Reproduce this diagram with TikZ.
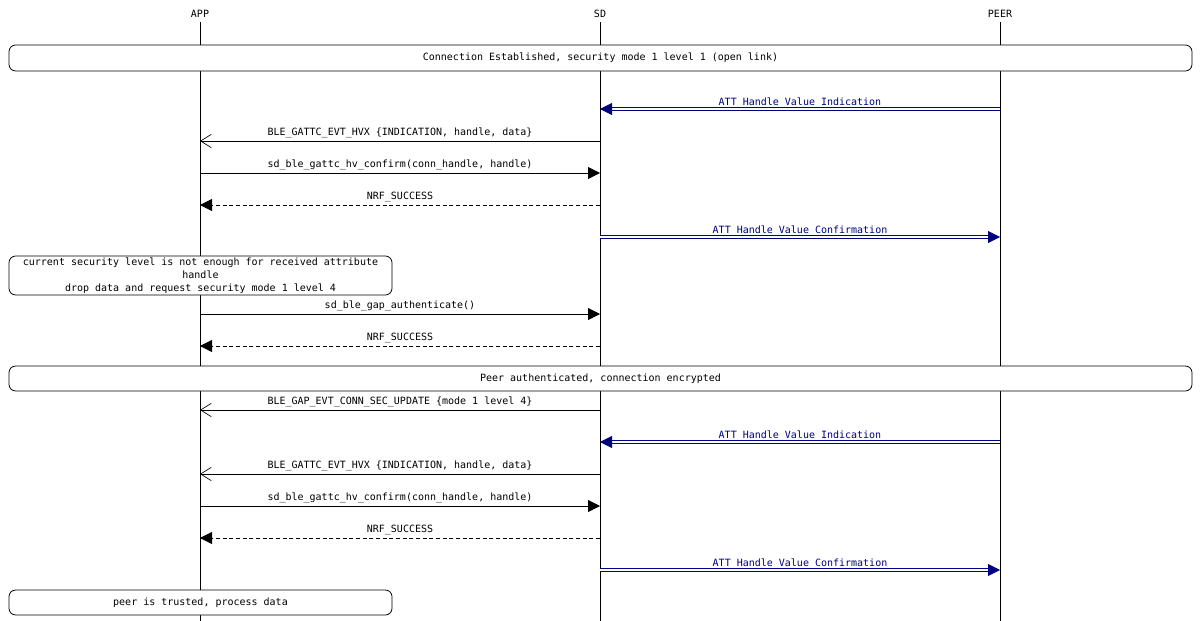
\documentclass[tikz,border=0pt]{standalone}
\usepackage{fontspec}
\setmonofont{DejaVu Sans Mono}
\usetikzlibrary{arrows.meta}
\definecolor{msgblue}{RGB}{0,0,128}
\tikzset{
  txt/.style={font=\ttfamily\fontsize{7.5}{9.75}\selectfont,inner sep=0pt},
  lbl/.style={txt,above=2pt,midway},
  lifeline/.style={line width=0.6pt},
  call/.style={line width=0.6pt,-{Triangle[length=9pt,width=9pt]}},
  reply/.style={call,densely dashed},
  event/.style={line width=0.6pt,-{Straight Barb[length=8pt,width=10pt,line width=0.5pt]}},
  air/.style={draw=msgblue,double=white,double distance=1.2pt,line width=0.6pt,
    -{Triangle[length=9pt,width=9pt,color=msgblue,fill=msgblue]}},
  note/.style={txt,draw,rounded corners=5pt,line width=0.6pt,fill=white,align=center}
}
\begin{document}
\begin{tikzpicture}[x=0.75pt,y=0.75pt,yscale=-1,xscale=1]
\useasboundingbox (0,0) rectangle (1200,621);

% lifelines
\node[txt] (app) at (200,14) {APP};
\node[txt] (sd) at (600,14) {SD};
\node[txt] (peer) at (1000,14) {PEER};
\coordinate (append) at (200,621);
\coordinate (sdend) at (600,621);
\coordinate (peerend) at (1000,621);
\draw[lifeline] (app.south)++(0,4) -- (append);
\draw[lifeline] (sd.south)++(0,4) -- (sdend);
\draw[lifeline] (peer.south)++(0,4) -- (peerend);

% message rows
\foreach \r/\y in {1/109,2/141,3/173,4/205,5/237,6/314,7/346,8/410,9/442,10/474,11/506,12/538,13/570}{
  \coordinate (a\r) at (200,\y);
  \coordinate (s\r) at (600,\y);
  \coordinate (p\r) at (1000,\y);
}

% boxes
\node[note,minimum width=1183*0.75pt,minimum height=26*0.75pt] (open) at (600.5,58) {Connection Established, security mode 1 level 1 (open link)};
\draw[air] (p1) -- (s1) node[lbl,text=msgblue] {ATT Handle Value Indication};
\draw[event] (s2) -- (a2) node[lbl] {BLE\_GATTC\_EVT\_HVX \{INDICATION, handle, data\}};
\draw[call] (a3) -- (s3) node[lbl] {sd\_ble\_gattc\_hv\_confirm(conn\_handle, handle)};
\draw[reply] (s4) -- (a4) node[lbl] {NRF\_SUCCESS};
\draw[air] (s5) -- (p5) node[lbl,text=msgblue] {ATT Handle Value Confirmation};
\node[note,minimum width=383*0.75pt,minimum height=39*0.75pt] (drop) at (200.5,275.5) {current security level is not enough for received attribute\\handle\\drop data and request security mode 1 level 4};
\draw[call] (a6) -- (s6) node[lbl] {sd\_ble\_gap\_authenticate()};
\draw[reply] (s7) -- (a7) node[lbl] {NRF\_SUCCESS};
\node[note,minimum width=1183*0.75pt,minimum height=25*0.75pt] (auth) at (600.5,378.5) {Peer authenticated, connection encrypted};
\draw[event] (s8) -- (a8) node[lbl] {BLE\_GAP\_EVT\_CONN\_SEC\_UPDATE \{mode 1 level 4\}};
\draw[air] (p9) -- (s9) node[lbl,text=msgblue] {ATT Handle Value Indication};
\draw[event] (s10) -- (a10) node[lbl] {BLE\_GATTC\_EVT\_HVX \{INDICATION, handle, data\}};
\draw[call] (a11) -- (s11) node[lbl] {sd\_ble\_gattc\_hv\_confirm(conn\_handle, handle)};
\draw[reply] (s12) -- (a12) node[lbl] {NRF\_SUCCESS};
\draw[air] (s13) -- (p13) node[lbl,text=msgblue] {ATT Handle Value Confirmation};
\node[note,minimum width=383*0.75pt,minimum height=25*0.75pt] (trust) at (200.5,602.5) {peer is trusted, process data};
\end{tikzpicture}
\end{document}
